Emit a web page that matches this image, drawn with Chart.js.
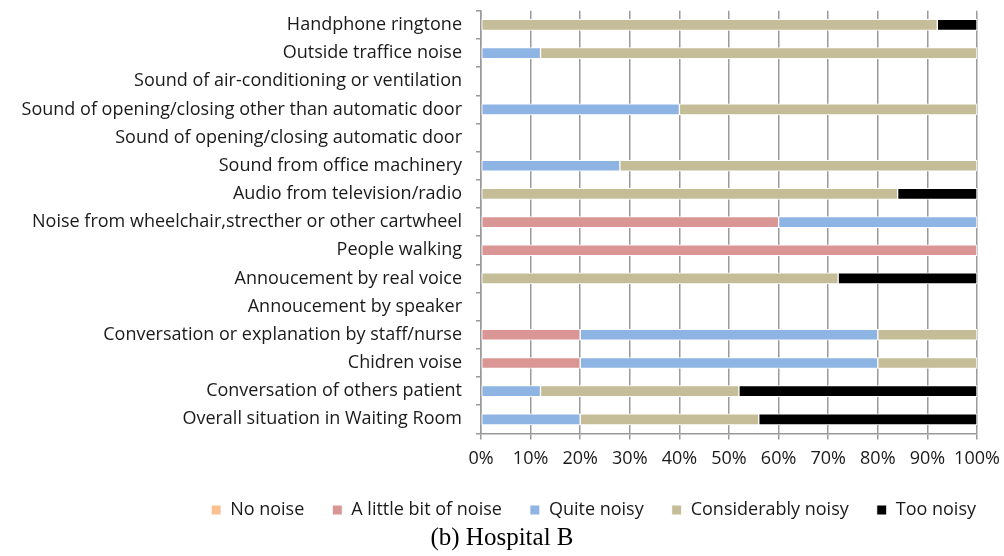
<!DOCTYPE html>
<html>
<head>
<meta charset="utf-8">
<script src="https://cdn.jsdelivr.net/npm/chart.js@4"></script>
<style>
  body { margin: 0; background: #fff; }
  #wrap { position: relative; width: 1004px; height: 556px; overflow: hidden; }
  #chartBox { position: absolute; left: 0; top: -14px; width: 1004px; height: 543px; }
  #caption { position: absolute; left: 0; top: 522px; width: 1004px; text-align: center;
             font-family: "Liberation Serif", serif; font-size: 25px; color: #000; line-height: 30px; }
</style>
</head>
<body>
<div id="wrap">
  <div id="chartBox"><canvas id="myChart"></canvas></div>
  <div id="caption">(b) Hospital B</div>
</div>
<script>
const categories = [
    'Handphone ringtone',
    'Outside traffice noise',
    'Sound of air-conditioning or ventilation',
    'Sound of opening/closing other than automatic door',
    'Sound of opening/closing automatic door',
    'Sound from office machinery',
    'Audio from television/radio',
    'Noise from wheelchair,strecther or other cartwheel',
    'People walking',
    'Annoucement by real voice',
    'Annoucement by speaker',
    'Conversation or explanation by staff/nurse',
    'Chidren voise',
    'Conversation of others patient',
    'Overall situation in Waiting Room'
];
const noNoise      = [0, 0, 0, 0, 0, 0, 0, 0, 0, 0, 0, 0, 0, 0, 0];
const littleNoise  = [0, 0, 0, 0, 0, 0, 0, 60, 100, 0, 0, 20, 20, 0, 0];
const quiteNoisy   = [0, 12, 0, 40, 0, 28, 0, 40, 0, 0, 0, 60, 60, 12, 20];
const considerably = [92, 88, 0, 60, 0, 72, 84, 0, 0, 72, 0, 20, 20, 40, 36];
const tooNoisy     = [8, 0, 0, 0, 0, 0, 16, 0, 0, 28, 0, 0, 0, 48, 44];
const xTicks = [0, 10, 20, 30, 40, 50, 60, 70, 80, 90, 100];

const font = { family: '"Open Sans", sans-serif', size: 18 };

function makeSet(label, data, color) {
    return {
        label: label,
        data: data,
        backgroundColor: color,
        borderColor: '#ffffff',
        borderWidth: 1,
        borderSkipped: false,
        barThickness: 11
    };
}

const ctx = document.getElementById('myChart');

const myChart = new Chart(ctx, {
    type: 'bar',
    data: {
        labels: categories,
        datasets: [
            makeSet('No noise', noNoise, '#fac090'),
            makeSet('A little bit of noise', littleNoise, '#d99694'),
            makeSet('Quite noisy', quiteNoisy, '#8eb4e3'),
            makeSet('Considerably noisy', considerably, '#c4bd97'),
            makeSet('Too noisy', tooNoisy, '#000000')
        ]
    },
    options: {
        indexAxis: 'y',
        responsive: true,
        maintainAspectRatio: false,
        animation: false,
        layout: { padding: { top: 0, right: 0, left: 0, bottom: 0 } },
        scales: {
            x: {
                stacked: true,
                min: 0,
                max: 100,
                afterBuildTicks: function (scale) {
                    scale.ticks = xTicks.map(v => ({ value: v }));
                },
                afterFit: function (scale) {
                    // keep the plot's right edge where the original has it
                    scale.paddingRight = 27;
                    scale.height = scale.height - 6;
                },
                ticks: {
                    font: font,
                    color: '#1a1a1a',
                    padding: 9,
                    maxRotation: 0,
                    callback: function (v) { return v + '%'; }
                },
                grid: { color: '#9a9a9a', lineWidth: 1.5, tickLength: 6 },
                border: { color: '#9a9a9a', width: 1.5 }
            },
            y: {
                stacked: true,
                afterFit: function (scale) { scale.width = 481; },
                ticks: { font: font, color: '#1a1a1a', padding: 14 },
                grid: { drawOnChartArea: false, color: '#9a9a9a', lineWidth: 1.5, tickLength: 5 },
                border: { color: '#9a9a9a', width: 1.5 }
            }
        },
        plugins: {
            legend: {
                position: 'bottom',
                align: 'end',
                labels: {
                    font: font,
                    color: '#1a1a1a',
                    boxWidth: 10,
                    boxHeight: 10,
                    padding: 28
                }
            },
            tooltip: { enabled: false }
        }
    }
});
</script>
</body>
</html>
